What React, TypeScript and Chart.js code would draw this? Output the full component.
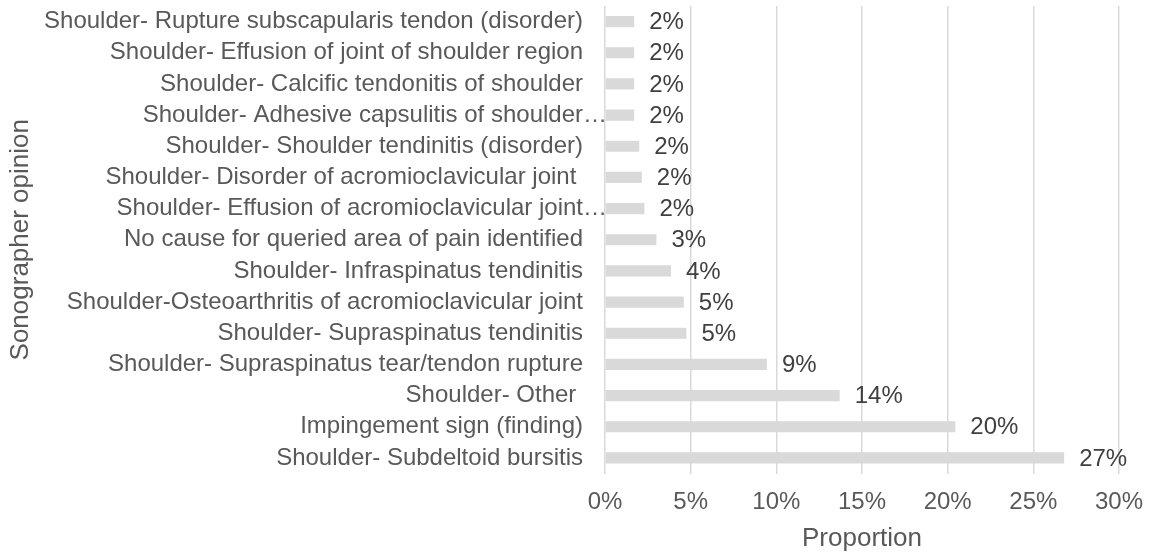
import React, { useEffect, useRef } from "react";
import { Chart, registerables } from "chart.js";

Chart.register(...registerables);

const categories: string[] = [
  "Shoulder- Rupture subscapularis tendon (disorder)",
  "Shoulder- Effusion of joint of shoulder region",
  "Shoulder- Calcific tendonitis of shoulder",
  "Shoulder- Adhesive capsulitis of shoulder…",
  "Shoulder- Shoulder tendinitis (disorder)",
  "Shoulder- Disorder of acromioclavicular joint ",
  "Shoulder- Effusion of acromioclavicular joint…",
  "No cause for queried area of pain identified",
  "Shoulder- Infraspinatus tendinitis",
  "Shoulder-Osteoarthritis of acromioclavicular joint",
  "Shoulder- Supraspinatus tendinitis",
  "Shoulder- Supraspinatus tear/tendon rupture",
  "Shoulder- Other ",
  "Impingement sign (finding)",
  "Shoulder- Subdeltoid bursitis",
];

const proportions: number[] = [
  1.7, 1.7, 1.7, 1.7, 2.0, 2.15, 2.3, 3.0, 3.85, 4.6, 4.75, 9.45, 13.7, 20.45, 26.8,
];

const xTickValues: number[] = [0, 5, 10, 15, 20, 25, 30];

const xTitle = "Proportion";
const yTitle = "Sonographer opinion";

const FONT = "'Liberation Sans', Arial, Helvetica, sans-serif";
const TEXT_GREY = "#595959";
const LABEL_GREY = "#404040";
const BAR_GREY = "#d9d9d9";

const categoryLabelPlugin = {
  id: "categoryLabels",
  afterDraw(chart: any) {
    const yScale = chart.scales.y;
    const ctx = chart.ctx;
    const rightEdge = chart.chartArea.left - 22;
    ctx.save();
    ctx.font = `24px ${FONT}`;
    ctx.fillStyle = TEXT_GREY;
    ctx.textBaseline = "middle";
    ctx.textAlign = "left";
    categories.forEach((label, i) => {
      const core = label.endsWith("…") ? label.slice(0, -1) : label;
      const w = ctx.measureText(core).width;
      ctx.fillText(label, rightEdge - w, yScale.getPixelForValue(i));
    });
    ctx.restore();
  },
};

const valueLabelPlugin = {
  id: "valueLabels",
  afterDatasetsDraw(chart: any) {
    const ctx = chart.ctx;
    const meta = chart.getDatasetMeta(0);
    ctx.save();
    ctx.font = `24px ${FONT}`;
    ctx.fillStyle = LABEL_GREY;
    ctx.textBaseline = "middle";
    ctx.textAlign = "left";
    meta.data.forEach((bar: any, i: number) => {
      ctx.fillText(`${Math.round(proportions[i])}%`, bar.x + 15, bar.y + 1);
    });
    ctx.restore();
  },
};

export default function App() {
  const canvasRef = useRef<HTMLCanvasElement | null>(null);

  useEffect(() => {
    if (!canvasRef.current) return;
    const chart = new Chart(canvasRef.current, {
      type: "bar",
      data: {
        labels: categories,
        datasets: [
          {
            data: proportions,
            backgroundColor: BAR_GREY,
            borderWidth: 0,
            barPercentage: 0.36,
            categoryPercentage: 1,
          },
        ],
      },
      options: {
        indexAxis: "y",
        animation: false,
        responsive: true,
        maintainAspectRatio: false,
        layout: { padding: { left: 0, right: 34, top: 6, bottom: 0 } },
        plugins: {
          legend: { display: false },
          tooltip: { enabled: false },
        },
        scales: {
          x: {
            type: "linear",
            min: 0,
            max: 30,
            afterFit(scale: any) {
              scale.height = 84.5;
            },
            afterBuildTicks(scale: any) {
              scale.ticks = xTickValues.map((v) => ({ value: v }));
            },
            ticks: {
              callback: (v: any) => `${v}%`,
              font: { family: FONT, size: 24 },
              color: TEXT_GREY,
              padding: 14,
              maxRotation: 0,
            },
            grid: { color: BAR_GREY, lineWidth: 1.5, drawTicks: false },
            border: { display: false },
            title: {
              display: true,
              text: xTitle,
              font: { family: FONT, size: 26 },
              color: TEXT_GREY,
              padding: { top: 0, bottom: 4 },
            },
          },
          y: {
            type: "category",
            afterFit(scale: any) {
              scale.width = 605;
            },
            ticks: { display: false },
            grid: { display: false, drawTicks: false },
            border: { display: false },
            title: {
              display: true,
              text: yTitle,
              font: { family: FONT, size: 26 },
              color: TEXT_GREY,
              padding: { top: 5, bottom: 0 },
            },
          },
        },
      },
      plugins: [categoryLabelPlugin, valueLabelPlugin],
    } as any);
    return () => chart.destroy();
  }, []);

  return (
    <div style={{ position: "fixed", left: 0, top: 0, width: 1157, height: 558 }}>
      <canvas ref={canvasRef} />
    </div>
  );
}
